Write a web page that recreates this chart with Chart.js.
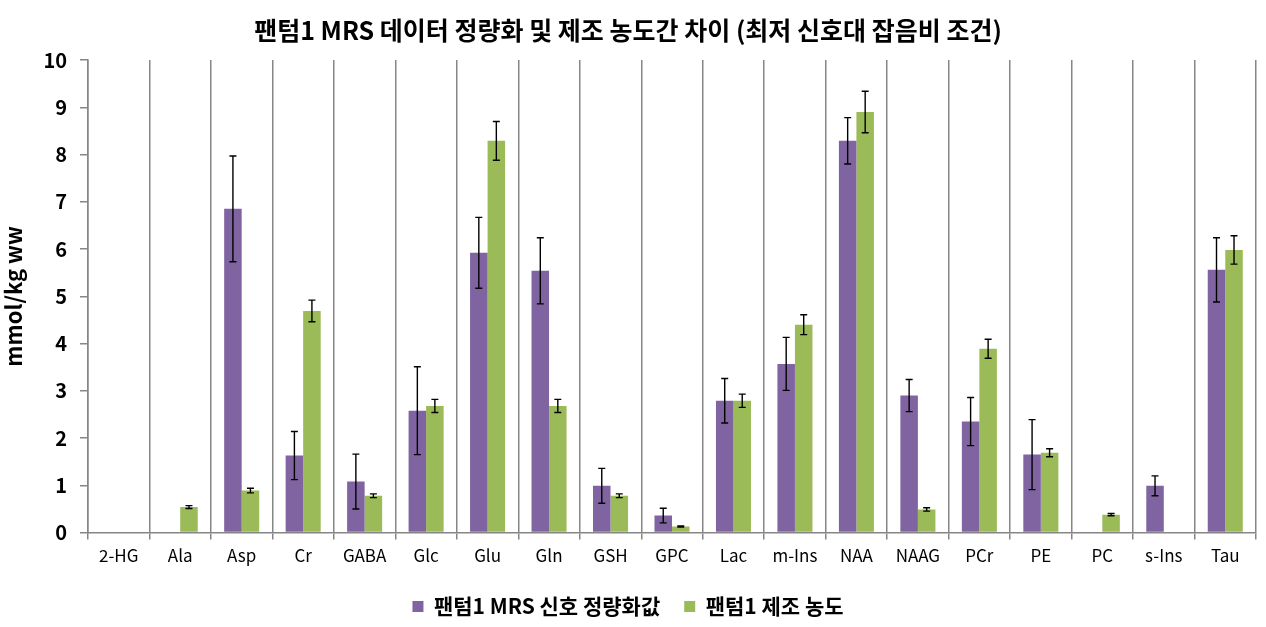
<!DOCTYPE html>
<html>
<head>
<meta charset="utf-8">
<script src="https://cdn.jsdelivr.net/npm/chart.js@4.4.1/dist/chart.umd.min.js"></script>
<style>
  html, body { margin: 0; padding: 0; background: #fff; }
  #wrap { width: 1266px; height: 627px; }
</style>
</head>
<body>
<div id="wrap"><canvas id="chart"></canvas></div>
<script>
// 대사물질 이름
const metabolites = ['2-HG', 'Ala', 'Asp', 'Cr', 'GABA', 'Glc', 'Glu', 'Gln', 'GSH', 'GPC',
    'Lac', 'm-Ins', 'NAA', 'NAAG', 'PCr', 'PE', 'PC', 's-Ins', 'Tau'];

// 팬텀1 MRS 신호 정량화값 (평균, 표준편차)
const mrsValues = [null, null, 6.85, 1.63, 1.08, 2.58, 5.92, 5.54, 0.99, 0.36,
    2.79, 3.57, 8.29, 2.90, 2.35, 1.65, null, 0.99, 5.56];
const mrsErrors = [0, 0, 1.12, 0.51, 0.58, 0.93, 0.75, 0.70, 0.37, 0.155,
    0.47, 0.56, 0.49, 0.34, 0.51, 0.74, 0, 0.21, 0.68];

// 팬텀1 제조 농도 (평균, 표준편차)
const prepValues = [null, 0.54, 0.89, 4.69, 0.78, 2.68, 8.29, 2.68, 0.78, 0.13,
    2.79, 4.40, 8.90, 0.49, 3.89, 1.69, 0.38, null, 5.98];
const prepErrors = [0, 0.03, 0.05, 0.23, 0.04, 0.14, 0.41, 0.14, 0.04, 0.01,
    0.14, 0.21, 0.44, 0.035, 0.20, 0.085, 0.025, 0, 0.30];

const yTicks = [0, 1, 2, 3, 4, 5, 6, 7, 8, 9, 10];

const KR_FONT = '"Noto Sans CJK KR", "Noto Sans", sans-serif';

// 에러바 그리는 플러그인
const errorBarPlugin = {
    id: 'errorBars',
    afterDatasetsDraw(chart) {
        const ctx = chart.ctx;
        const yScale = chart.scales.y;
        chart.data.datasets.forEach(function (ds, i) {
            const meta = chart.getDatasetMeta(i);
            meta.data.forEach(function (bar, j) {
                const v = ds.data[j];
                const e = ds.errors[j];
                if (v === null || v === undefined) return;
                const x = bar.x;
                const top = yScale.getPixelForValue(v + e);
                const bot = yScale.getPixelForValue(v - e);
                ctx.save();
                ctx.strokeStyle = '#000';
                ctx.lineWidth = 1.4;
                ctx.beginPath();
                ctx.moveTo(x, top);
                ctx.lineTo(x, bot);
                ctx.moveTo(x - 3.5, top);
                ctx.lineTo(x + 3.5, top);
                ctx.moveTo(x - 3.5, bot);
                ctx.lineTo(x + 3.5, bot);
                ctx.stroke();
                ctx.restore();
            });
        });
    }
};

const data = {
    labels: metabolites,
    datasets: [
        {
            label: '팬텀1 MRS 신호 정량화값',
            data: mrsValues,
            errors: mrsErrors,
            backgroundColor: '#8064A2',
            categoryPercentage: 0.57,
            barPercentage: 1.0,
        },
        {
            label: '팬텀1 제조 농도',
            data: prepValues,
            errors: prepErrors,
            backgroundColor: '#9BBB59',
            categoryPercentage: 0.57,
            barPercentage: 1.0,
        }
    ]
};

const config = {
    type: 'bar',
    data: data,
    plugins: [errorBarPlugin],
    options: {
        responsive: true,
        maintainAspectRatio: false,
        animation: false,
        layout: {
            padding: { left: 0, right: 10, top: 0, bottom: 0 }
        },
        plugins: {
            tooltip: { enabled: false },
            title: {
                display: true,
                text: '팬텀1 MRS 데이터 정량화 및 제조 농도간 차이 (최저 신호대 잡음비 조건)',
                color: '#000',
                font: { family: KR_FONT, size: 25, weight: 'bold' },
                padding: { top: 15, bottom: 15 }
            },
            legend: {
                position: 'bottom',
                labels: {
                    color: '#000',
                    boxWidth: 11,
                    boxHeight: 11,
                    padding: 24,
                    font: { family: KR_FONT, size: 21, weight: 'bold' }
                }
            }
        },
        scales: {
            x: {
                grid: {
                    display: true,
                    offset: true,
                    color: '#868686',
                    lineWidth: 1.5,
                    tickLength: 7,
                    drawOnChartArea: true
                },
                border: { color: '#868686', width: 1.5 },
                ticks: {
                    color: '#000',
                    padding: 6,
                    font: { family: KR_FONT, size: 17 }
                }
            },
            y: {
                min: 0,
                max: 10,
                afterBuildTicks: function (scale) {
                    scale.ticks = yTicks.map(function (v) { return { value: v }; });
                },
                grid: {
                    drawOnChartArea: false,
                    color: '#868686',
                    lineWidth: 1.5,
                    tickLength: 8
                },
                border: { color: '#868686', width: 1.5 },
                ticks: {
                    color: '#000',
                    padding: 13,
                    font: { family: KR_FONT, size: 20, weight: 'bold' }
                },
                title: {
                    display: true,
                    text: 'mmol/kg ww',
                    color: '#000',
                    font: { family: KR_FONT, size: 22, weight: 'bold' },
                    padding: { top: 0, bottom: 4 }
                }
            }
        }
    }
};

var ctx = document.getElementById('chart').getContext('2d');
var myChart = new Chart(ctx, config);
</script>
</body>
</html>
